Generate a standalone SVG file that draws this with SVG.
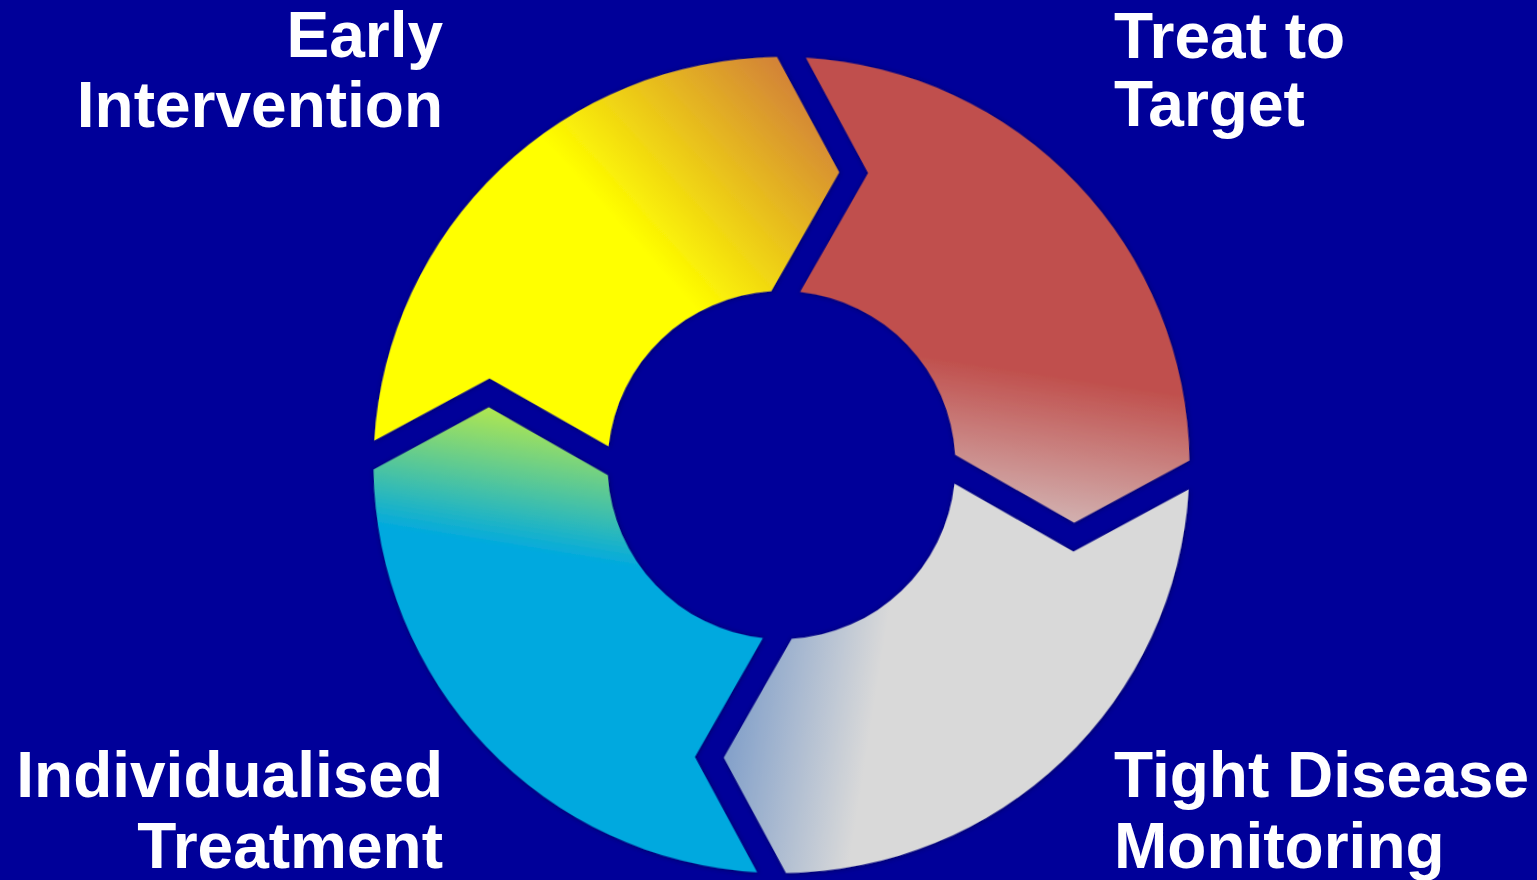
<svg xmlns="http://www.w3.org/2000/svg" width="1537" height="880" viewBox="0 0 1537 880">
  <style>
    .lbl { font-family: "Liberation Sans", Arial, sans-serif; font-weight: bold; font-size: 64px; fill: #FFFFFF; }
    .end { text-anchor: end; }
    .seg { filter: url(#sh); }
  </style>
  <defs>
    <filter id="sh" x="-10%" y="-10%" width="120%" height="120%">
      <feDropShadow dx="0.5" dy="0.5" stdDeviation="2.5" flood-color="#000033" flood-opacity="0.6"/>
    </filter>
    <linearGradient id="gYellow" gradientUnits="userSpaceOnUse" x1="-171.5" y1="-240" x2="18.5" y2="-420">
      <stop offset="0" stop-color="#FFFF00"/>
      <stop offset="1" stop-color="#CC7040"/>
    </linearGradient>
    <linearGradient id="gRed" gradientUnits="userSpaceOnUse" x1="273.5" y1="-95" x2="248.5" y2="105">
      <stop offset="0" stop-color="#C0504D"/>
      <stop offset="1" stop-color="#D9D9D9"/>
    </linearGradient>
    <linearGradient id="gGray" gradientUnits="userSpaceOnUse" x1="-59.5" y1="280" x2="90.5" y2="300">
      <stop offset="0" stop-color="#7B9BC8"/>
      <stop offset="1" stop-color="#D9D9D9"/>
    </linearGradient>
    <linearGradient id="gCyan" gradientUnits="userSpaceOnUse" x1="-286.5" y1="-60" x2="-306.5" y2="85">
      <stop offset="0" stop-color="#BDEB45"/>
      <stop offset="1" stop-color="#00A9DF"/>
    </linearGradient>
  </defs>

  <rect x="0" y="0" width="1537" height="880" fill="#000099"/>

  <g id="early-intervention">
    <path class="seg" transform="translate(781.5,465) rotate(1.4)" fill="url(#gYellow)"
      d="M -407.7,-14.5 A 408 408 0 0 1 -14.5,-407.7 L 50.5,-294 L -14.5,-173.4 A 174 174 0 0 0 -173.4,-14.5 L -294,-79.5 Z"/>
    <text class="lbl end" x="443" y="57">Early</text>
    <text class="lbl end" x="443" y="127">Intervention</text>
  </g>

  <g id="treat-to-target">
    <path class="seg" transform="translate(781.5,465) rotate(1.4)" fill="url(#gRed)"
      d="M 14.5,-407.7 A 408 408 0 0 1 407.7,-14.5 L 294,50.5 L 173.4,-14.5 A 174 174 0 0 0 14.5,-173.4 L 79.5,-294 Z"/>
    <text class="lbl" x="1114" y="58">Treat to</text>
    <text class="lbl" x="1114" y="126">Target</text>
  </g>

  <g id="tight-disease-monitoring">
    <path class="seg" transform="translate(781.5,465) rotate(1.4)" fill="url(#gGray)"
      d="M 407.7,14.5 A 408 408 0 0 1 14.5,407.7 L -50.5,294 L 14.5,173.4 A 174 174 0 0 0 173.4,14.5 L 294,79.5 Z"/>
    <text class="lbl" x="1114" y="797">Tight Disease</text>
    <text class="lbl" x="1114" y="868">Monitoring</text>
  </g>

  <g id="individualised-treatment">
    <path class="seg" transform="translate(781.5,465) rotate(1.4)" fill="url(#gCyan)"
      d="M -14.5,407.7 A 408 408 0 0 1 -407.7,14.5 L -294,-50.5 L -173.4,14.5 A 174 174 0 0 0 -14.5,173.4 L -79.5,294 Z"/>
    <text class="lbl end" x="443" y="797">Individualised</text>
    <text class="lbl end" x="443" y="868">Treatment</text>
  </g>

  <g id="connectors"/>
</svg>
